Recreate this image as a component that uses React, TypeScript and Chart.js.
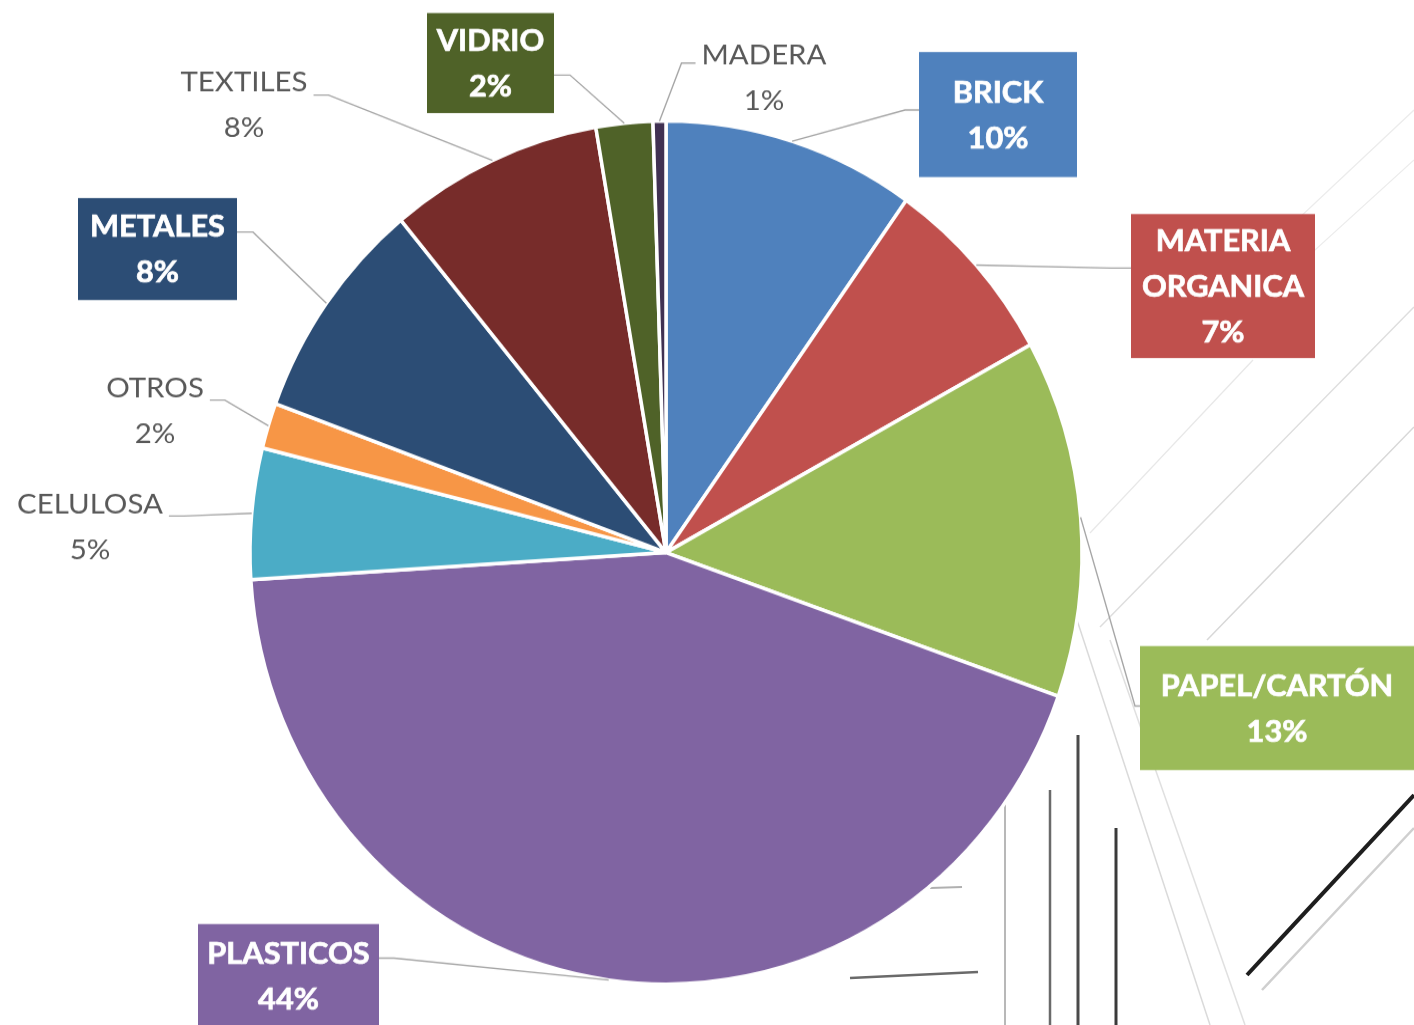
import React, { useEffect, useRef } from "react";
import { Chart, registerables } from "chart.js";

Chart.register(...registerables);

// ---------- data ----------
const categories = [
  "BRICK",
  "MATERIA ORGANICA",
  "PAPEL/CARTÓN",
  "PLASTICOS",
  "CELULOSA",
  "OTROS",
  "METALES",
  "TEXTILES",
  "VIDRIO",
  "MADERA",
];
const shares = [9.8, 7.2, 13.4, 43.6, 4.9, 1.7, 8.4, 8.3, 2.2, 0.5];
const percentLabels = ["10%", "7%", "13%", "44%", "5%", "2%", "8%", "8%", "2%", "1%"];
const sliceColors = [
  "#4F81BD",
  "#C0504D",
  "#9BBB59",
  "#8064A2",
  "#4BACC6",
  "#F79646",
  "#2C4D75",
  "#772C2A",
  "#4F6228",
  "#403152",
];

// ---------- label layout (offsets from pie centre, in page pixels) ----------
type LabelSpec = {
  boxed: boolean;
  dx: number;
  dy: number;
  w?: number;
  h?: number;
  side: "left" | "right";
  attachDy: number;
  elbow: number;
};
const labelLayout: LabelSpec[] = [
  { boxed: true, dx: 332, dy: -438, w: 158, h: 125, side: "left", attachDy: -4.5, elbow: 14 },
  { boxed: true, dx: 557, dy: -266.5, w: 184, h: 144, side: "left", attachDy: -18, elbow: 20 },
  { boxed: true, dx: 611, dy: 155.5, w: 274, h: 124, side: "left", attachDy: -2, elbow: 5 },
  { boxed: true, dx: -377.5, dy: 423.5, w: 181, h: 104, side: "right", attachDy: -18, elbow: 15 },
  { boxed: false, dx: -576, dy: -26, side: "right", attachDy: -10.5, elbow: 15 },
  { boxed: false, dx: -511, dy: -142, side: "right", attachDy: -10.5, elbow: 15 },
  { boxed: true, dx: -508.5, dy: -303.5, w: 159, h: 102, side: "right", attachDy: -17, elbow: 16 },
  { boxed: false, dx: -422, dy: -448, side: "right", attachDy: -9.5, elbow: 15 },
  { boxed: true, dx: -175.5, dy: -489.5, w: 127, h: 100, side: "right", attachDy: 12, elbow: 16 },
  { boxed: false, dx: 98, dy: -475, side: "left", attachDy: -14.5, elbow: 14 },
];

const PAGE_W = 1414;
const PAGE_H = 1025;
const DRAW_H = 988;
const SY = PAGE_H / DRAW_H;

const leaderLabelsPlugin = {
  id: "leaderLabels",
  afterDatasetsDraw(chart: any) {
    const ctx: CanvasRenderingContext2D = chart.ctx;
    const meta = chart.getDatasetMeta(0);
    const lineGap = 45.5 / SY;
    meta.data.forEach((arc: any, i: number) => {
      const spec = labelLayout[i];
      const { x, y, startAngle, endAngle, outerRadius } = arc.getProps(
        ["x", "y", "startAngle", "endAngle", "outerRadius"],
        true
      );
      const mid = (startAngle + endAngle) / 2;
      const px = x + Math.cos(mid) * outerRadius;
      const py = y + Math.sin(mid) * outerRadius;
      const cx = x + spec.dx;
      const cy = y + spec.dy / SY;
      const lines = [...categories[i].split(" "), percentLabels[i]];
      const sx = spec.boxed ? 1.06 : 1.11;

      ctx.save();
      ctx.font = spec.boxed ? "bold 29px Lato" : "26.5px Lato";
      let halfW: number;
      if (spec.boxed) {
        halfW = (spec.w as number) / 2;
      } else {
        halfW = (ctx.measureText(lines[0]).width * sx) / 2 + 6;
      }
      const ax = spec.side === "left" ? cx - halfW : cx + halfW;
      const ay = cy + spec.attachDy / SY;
      const ex = spec.side === "left" ? ax - spec.elbow : ax + spec.elbow;

      // leader line
      ctx.strokeStyle = "#A6A6A6";
      ctx.lineWidth = 1.4;
      ctx.beginPath();
      ctx.moveTo(px, py);
      ctx.lineTo(ex, ay);
      ctx.lineTo(ax, ay);
      ctx.stroke();

      // box
      if (spec.boxed) {
        const h = (spec.h as number) / SY;
        ctx.fillStyle = sliceColors[i];
        ctx.fillRect(cx - halfW, cy - h / 2, spec.w as number, h);
      }

      // text
      const color = spec.boxed ? "#FFFFFF" : "#595959";
      ctx.fillStyle = color;
      ctx.strokeStyle = color;
      ctx.lineWidth = 0.7;
      ctx.textAlign = "center";
      ctx.textBaseline = "middle";
      const n = lines.length;
      lines.forEach((t, k) => {
        const ty = cy + (k - (n - 1) / 2) * lineGap + 1;
        ctx.save();
        ctx.translate(cx, ty);
        ctx.scale(sx, 1);
        ctx.fillText(t, 0, 0);
        if (spec.boxed) ctx.strokeText(t, 0, 0);
        ctx.restore();
      });
      ctx.restore();
    });
  },
};

function Background() {
  const lines: [number, number, number, number, string, number][] = [
    [1100, 627, 1414, 307, "#dedede", 1.5],
    [1207, 640, 1414, 427, "#d8d8d8", 1.5],
    [1090, 533, 1253, 360, "#e8e8e8", 1.3],
    [1180, 330, 1414, 110, "#ececec", 1.3],
    [1260, 300, 1414, 160, "#ececec", 1.2],
    [1077, 620, 1210, 1025, "#dadada", 1.5],
    [1110, 640, 1245, 1025, "#e0e0e0", 1.5],
    [1247, 975, 1414, 795, "#1e1e1e", 4],
    [1262, 990, 1414, 828, "#cfcfcf", 2.5],
    [1050, 790, 1050, 1025, "#6a6a6a", 2.5],
    [1078, 735, 1078, 1025, "#4a4a4a", 3],
    [1116, 828, 1116, 1025, "#3a3a3a", 3],
    [1005, 800, 1005, 1025, "#b8b8b8", 2],
    [850, 978, 978, 972, "#6a6a6a", 2.5],
    [930, 888, 962, 887, "#b0b0b0", 2],
  ];
  return (
    <svg
      width={PAGE_W}
      height={PAGE_H}
      style={{ position: "absolute", left: 0, top: 0 }}
    >
      <rect x={0} y={0} width={PAGE_W} height={PAGE_H} fill="#ffffff" />
      {lines.map((l, i) => (
        <line key={i} x1={l[0]} y1={l[1]} x2={l[2]} y2={l[3]} stroke={l[4]} strokeWidth={l[5]} />
      ))}
    </svg>
  );
}

export default function App() {
  const canvasRef = useRef<HTMLCanvasElement | null>(null);

  useEffect(() => {
    const canvas = canvasRef.current;
    if (!canvas) return;
    const chart = new Chart(canvas, {
      type: "pie",
      data: {
        labels: categories,
        datasets: [
          {
            data: shares,
            backgroundColor: sliceColors,
            borderColor: "#ffffff",
            borderWidth: 3.5,
          },
        ],
      },
      options: {
        responsive: true,
        maintainAspectRatio: false,
        animation: false,
        layout: {
          padding: { left: 248.25, right: 330.25, top: 114.85, bottom: 37.65 },
        },
        plugins: {
          legend: { display: false },
          tooltip: { enabled: false },
        },
      },
      plugins: [leaderLabelsPlugin],
    });
    return () => chart.destroy();
  }, []);

  return (
    <div
      style={{
        position: "fixed",
        left: 0,
        top: 0,
        width: PAGE_W,
        height: PAGE_H,
        overflow: "hidden",
        background: "#ffffff",
      }}
    >
      <Background />
      <div
        style={{
          position: "absolute",
          left: 0,
          top: 0,
          width: PAGE_W,
          height: DRAW_H,
          transform: `scaleY(${SY})`,
          transformOrigin: "0 0",
        }}
      >
        <canvas ref={canvasRef} />
      </div>
    </div>
  );
}
